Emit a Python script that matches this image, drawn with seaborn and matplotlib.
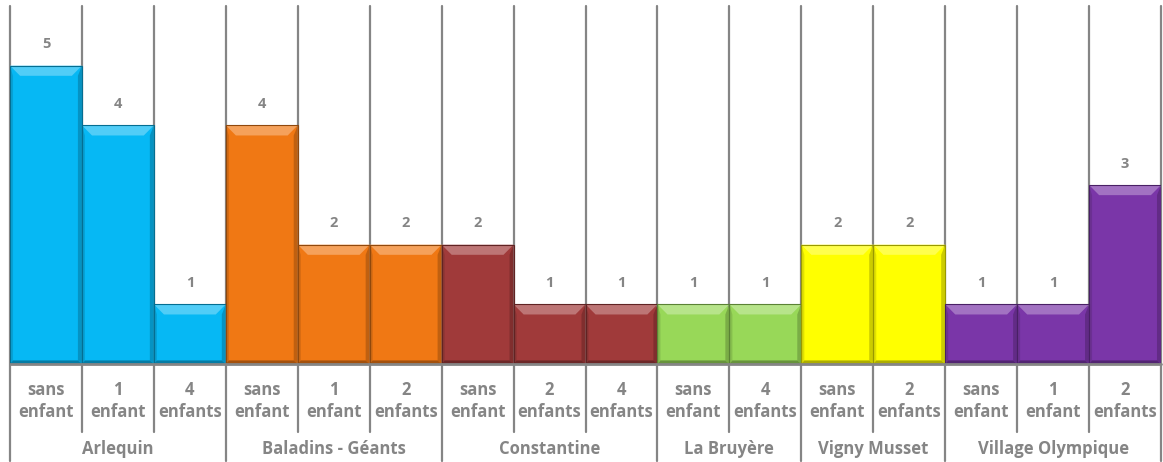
import matplotlib
matplotlib.use("Agg")
import matplotlib.pyplot as plt
import matplotlib.colors as mcolors
from matplotlib.patches import Polygon
import seaborn as sns
import pandas as pd

groups = ["Arlequin", "Baladins - Géants", "Constantine", "La Bruyère", "Vigny Musset", "Village Olympique"]
group_of_bar = ["Arlequin", "Arlequin", "Arlequin",
                "Baladins - Géants", "Baladins - Géants", "Baladins - Géants",
                "Constantine", "Constantine", "Constantine",
                "La Bruyère", "La Bruyère",
                "Vigny Musset", "Vigny Musset",
                "Village Olympique", "Village Olympique", "Village Olympique"]
sub_labels = ["sans\nenfant", "1\nenfant", "4\nenfants",
              "sans\nenfant", "1\nenfant", "2\nenfants",
              "sans\nenfant", "2\nenfants", "4\nenfants",
              "sans\nenfant", "4\nenfants",
              "sans\nenfant", "2\nenfants",
              "sans\nenfant", "1\nenfant", "2\nenfants"]
values = [5, 4, 1, 4, 2, 2, 2, 1, 1, 1, 1, 2, 2, 1, 1, 3]
group_colors = ["#06B8F4", "#F07814", "#A03A3A", "#98D858", "#FFFF00", "#7A36A8"]

sns.set_theme(style="white")
plt.rcParams['font.family'] = ['Open Sans', 'DejaVu Sans']

ids = [f"b{i}" for i in range(len(values))]
df = pd.DataFrame({"id": ids, "group": group_of_bar, "value": values})

fig = plt.figure(figsize=(11.63, 4.62), dpi=100)
ax = fig.add_axes([10/1163, 98/462, 1151/1163, 358/462])

sns.barplot(data=df, x="id", y="value", hue="group", order=ids, hue_order=groups,
            palette=group_colors, width=1.0, dodge=False, legend=False, ax=ax,
            saturation=1.0, linewidth=0)

ax.set_ylim(0, 6)
ax.set_xlim(-0.5, len(values) - 0.5)
ax.set_xticks([])
ax.set_yticks([])
ax.set_xlabel("")
ax.set_ylabel("")
for s in ax.spines.values():
    s.set_visible(False)

grey = "#858585"

# bevel effect derived from patch geometry
dx, dy = 0.14, 0.17
for p in ax.patches:
    h = p.get_height()
    if h <= 0:
        continue
    x0 = p.get_x(); x1 = x0 + p.get_width()
    base = mcolors.to_rgb(p.get_facecolor())
    light = tuple(min(1, c + (1 - c) * 0.3) for c in base)
    dark = tuple(c * 0.8 for c in base)
    darker = tuple(c * 0.6 for c in base)
    ax.add_patch(Polygon([(x0, h), (x1, h), (x1 - dx, h - dy), (x0 + dx, h - dy)],
                         closed=True, facecolor=light, edgecolor="none", zorder=3))
    ax.add_patch(Polygon([(x1, h), (x1, 0), (x1 - dx * 0.4, 0.06), (x1 - dx * 0.4, h - dy)],
                         closed=True, facecolor=dark, edgecolor="none", zorder=3))
    ax.add_patch(Polygon([(x0, h), (x0, 0), (x0 + dx * 0.3, 0.06), (x0 + dx * 0.3, h - dy)],
                         closed=True, facecolor=dark, edgecolor="none", zorder=3, alpha=0.6))
    ax.add_patch(Polygon([(x0, 0), (x1, 0), (x1 - dx * 0.4, 0.06), (x0 + dx * 0.3, 0.06)],
                         closed=True, facecolor=darker, edgecolor="none", zorder=3, alpha=0.8))
    ax.add_patch(Polygon([(x0, 0), (x1, 0), (x1, h), (x0, h)], closed=True,
                         facecolor="none", edgecolor=darker, linewidth=0.8, zorder=4))
    ax.text(x0 + p.get_width() / 2, h + 0.36, f"{int(h)}", ha="center", va="center",
            fontsize=10.5, fontweight="bold", color=grey, zorder=5)

trans = ax.get_xaxis_transform()
bounds = [0]
for i in range(1, len(group_of_bar)):
    if group_of_bar[i] != group_of_bar[i - 1]:
        bounds.append(i)
bounds.append(len(group_of_bar))

for k in range(len(values) + 1):
    xpos = k - 0.5
    is_group = k in bounds
    ymin = -0.272 if is_group else -0.19
    ax.plot([xpos, xpos], [ymin, 1.0], transform=trans, color=grey, lw=1.6,
            clip_on=False, zorder=1)

ax.plot([-0.5, len(values) - 0.5], [0, 0], color=grey, lw=2.0, zorder=6, clip_on=False)

for i, lab in enumerate(sub_labels):
    ax.text(i, -0.103, lab, transform=trans, ha="center", va="center",
            fontsize=12, fontweight="bold", color=grey, linespacing=1.32)

for g_i in range(len(bounds) - 1):
    a, b = bounds[g_i], bounds[g_i + 1]
    ax.text((a + b - 1) / 2, -0.238, group_of_bar[a], transform=trans, ha="center",
            va="center", fontsize=12, fontweight="bold", color=grey)

fig.savefig("out.png", dpi=100, facecolor="white")
